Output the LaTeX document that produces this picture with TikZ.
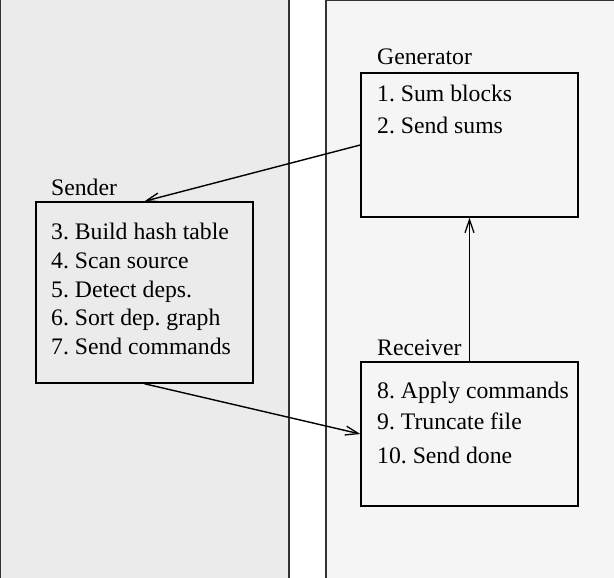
\documentclass[tikz,border=0pt]{standalone}
\usepackage{fontspec}
\setmainfont{Liberation Serif}
\usetikzlibrary{arrows.meta}
\definecolor{leftfill}{HTML}{EBEBEB}
\definecolor{rightfill}{HTML}{F5F5F5}
\definecolor{panelline}{HTML}{333333}
\frenchspacing
\begin{document}
\begin{tikzpicture}[x=1pt,y=-1pt,
  panel/.style={draw=panelline,line width=2pt},
  procbox/.style={draw=black,line width=1.5pt,inner sep=0pt,minimum width=217pt},
  lbl/.style={anchor=base west,inner sep=0pt,font=\fontsize{23.7}{28}\selectfont},
  arr/.style={draw=black,line width=1.4pt,-{Straight Barb[length=13pt,width=9pt,line width=1.3pt]}}]
\useasboundingbox (0,0) rectangle (614,578);
\begin{scope}
\clip (0,0) rectangle (614,578);
\draw[panel,fill=leftfill] (0.3,-0.5) rectangle (288.5,578.5);
\draw[panel,fill=rightfill] (325.5,0.3) rectangle (614.5,578.5);
\end{scope}
% boxes
\node[procbox,fill=leftfill,minimum height=181pt] (snd) at (144.5,292.5) {};
\node[procbox,fill=rightfill,minimum height=144pt] (gen) at (469.5,145) {};
\node[procbox,fill=rightfill,minimum height=144pt] (rec) at (469.5,434) {};
% titles
\node[lbl] (sndt) at (51,195) {Sender};
\node[lbl] (gent) at (377,65) {Generator};
\node[lbl] (rect) at (377,355) {Receiver};
% generator steps
\node[lbl] (g1) at (377,102) {1. Sum blocks};
\node[lbl] (g2) at (377,133) {2. Send sums};
% sender steps
\node[lbl] (s3) at (51,239) {3. Build hash table};
\node[lbl] (s4) at (51,268) {4. Scan source};
\node[lbl] (s5) at (51,297) {5. Detect deps.};
\node[lbl] (s6) at (51,325.5) {6. Sort dep. graph};
\node[lbl] (s7) at (51,354) {7. Send commands};
% receiver steps
\node[lbl] (r8) at (377,398) {8. Apply commands};
\node[lbl] (r9) at (377,429) {9. Truncate file};
\node[lbl] (r10) at (377,463) {10. Send done};
% connectors
\draw[arr] (gen.west) -- (snd.north);
\draw[arr] (snd.south) -- (rec.west);
\draw[arr] (rec.north) -- (gen.south);
\end{tikzpicture}
\end{document}
